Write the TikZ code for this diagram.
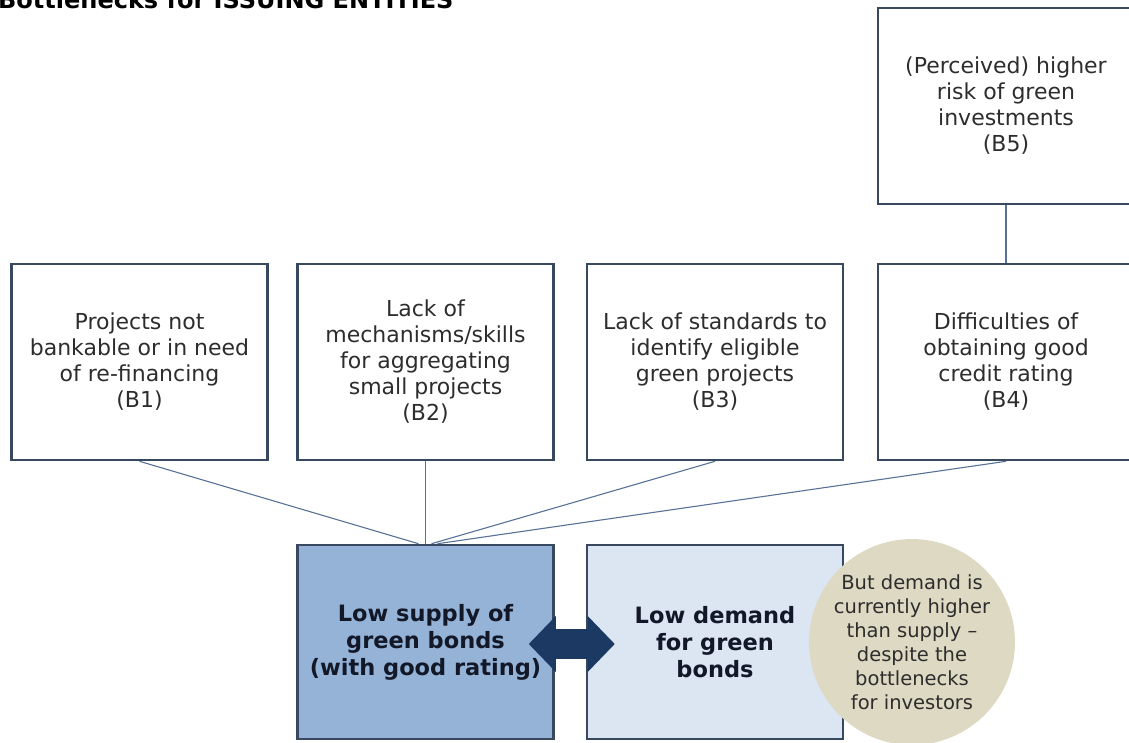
\documentclass[tikz,border=0pt]{standalone}
\usepackage{fontspec}
\setmainfont{DejaVu Sans}
\usetikzlibrary{arrows.meta}
\definecolor{edge}{RGB}{56, 72, 94}
\definecolor{linkblue}{RGB}{88, 114, 150}
\definecolor{supfill}{RGB}{149, 179, 215}
\definecolor{demfill}{RGB}{220, 230, 242}
\definecolor{tan}{RGB}{221, 217, 195}
\definecolor{navy}{RGB}{27, 57, 98}
\definecolor{ink}{RGB}{45, 45, 45}
\definecolor{boldink}{RGB}{18, 24, 40}
\newcommand*{\boxw}{256}
\newcommand*{\boxh}{196}

\begin{document}
\begin{tikzpicture}[
   x=1pt, y=-1pt,
   cause/.style={rectangle, draw=edge, fill=white, line width=2.6, text=ink,
                 align=center, inner sep=4, minimum width=\boxw, minimum height=\boxh,
                 font=\fontsize{22}{26}\selectfont},
   supbox/.style={rectangle, draw=edge, fill=supfill, line width=2.6, text=boldink,
                  align=center, inner sep=4, minimum width=\boxw, minimum height=194,
                  font=\bfseries\fontsize{22.5}{27}\selectfont},
   dembox/.style={rectangle, draw=edge, fill=demfill, line width=2.6, text=boldink,
                  align=center, inner sep=4, minimum width=\boxw, minimum height=194,
                  font=\bfseries\fontsize{22.5}{27}\selectfont},
   note/.style={circle, fill=tan, text=ink, align=center, inner sep=0,
                minimum size=200, font=\fontsize{19.5}{24}\selectfont},
   link/.style={color=linkblue, line width=1.1},
   supdem/.style={draw=navy, line width=30,
                  {Triangle[length=27pt, width=56pt, line width=0pt]}-{Triangle[length=27pt, width=56pt, line width=0pt]}}
  ]

  \useasboundingbox (0, 0) rectangle (1129, 742);

  \node (title) at (-2, 8) [anchor=base west, inner sep=0, text=black,
        font=\bfseries\fontsize{24}{28}\selectfont] {Bottlenecks for ISSUING ENTITIES};

  % Bottleneck boxes
  \node (B5) at (1006, 106) [cause] {(Perceived) higher\\risk of green\\investments\\(B5)};
  \node (B1) at (139.5, 362) [cause] {Projects not\\bankable or in need\\of re-financing\\(B1)};
  \node (B2) at (425.5, 362) [cause] {Lack of\\mechanisms/skills\\for aggregating\\small projects\\(B2)};
  \node (B3) at (715, 362) [cause] {Lack of standards to\\identify eligible\\green projects\\(B3)};
  \node (B4) at (1006, 362) [cause] {Difficulties of\\obtaining good\\credit rating\\(B4)};

  % Market boxes
  \node (supply) at (425.5, 642) [supbox] {Low supply of\\green bonds\\(with good rating)};
  \node (demand) at (715, 642) [dembox] {Low demand\\for green\\bonds};
  \node (remark) at (912, 642) [note] {But demand is\\currently higher\\than supply --\\despite the\\bottlenecks\\for investors};

  \draw[link] (B5) -- (B4);
  \foreach \B/\s in {B1/-7, B2/0, B3/6, B4/12} {
    \draw[link] (\B.south) -- ([xshift=\s]supply.north);
  }

  \draw[supdem] ([xshift=-26, yshift=-2]supply.east) -- ([xshift=29, yshift=-2]demand.west);

\end{tikzpicture}
\end{document}
